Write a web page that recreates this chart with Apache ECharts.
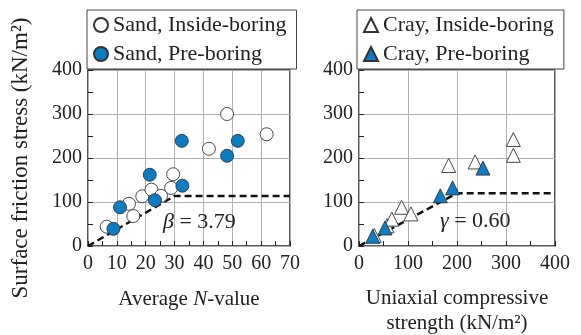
<!DOCTYPE html>
<html>
<head>
<meta charset="utf-8">
<script src="https://cdn.jsdelivr.net/npm/echarts@6/dist/echarts.min.js"></script>
<style>html,body{margin:0;padding:0;background:#fff}#chart{width:581px;height:335px}</style>
</head>
<body>
<div id="chart"></div>
<script>
// [x, y] pairs
var sandInside = [[6.5,44],[14.2,96],[15.7,68],[18.8,113],[22,128],[25.3,114],[28.8,132],[29.5,163],[41.9,221],[48.2,300],[61.9,254]];
var sandPre = [[8.8,39],[11.1,88],[21.4,162],[23.2,104],[32.5,239],[32.7,137],[48.2,205],[51.9,239]];
var crayInside = [[31,24],[57,46],[67,61],[87,88],[106,73],[183,183],[237,191],[315,242],[315,206]];
var crayPre = [[28,22],[53,41],[166,114],[191,132],[253,177]];
// fitted lines (beta = 3.79, gamma = 0.60)
var sandFit = [[0,0],[30,113.7],[70,113.7]];
var crayFit = [[0,0],[200,120],[400,120]];

var FONT = 'Liberation Serif';
var BLUE = '#0b7dc4';
var INK = '#222';

var chart = echarts.init(document.getElementById('chart'));

function xAxis(grid, max, interval, name, gap) {
  return {
    type: 'value', gridIndex: grid, min: 0, max: max, interval: interval,
    name: name, nameLocation: 'middle', nameGap: gap,
    nameTextStyle: { fontFamily: FONT, fontSize: 21, color: INK, lineHeight: 25,
      rich: { i: { fontFamily: FONT, fontSize: 21, fontStyle: 'italic', color: INK } } },
    axisLine: { show: false },
    axisTick: { show: true, inside: true, length: 5, lineStyle: { color: INK } },
    minorTick: { show: true, splitNumber: 2, length: 5, lineStyle: { color: INK } },
    axisLabel: { fontFamily: FONT, fontSize: 20, color: INK, margin: 8 },
    splitLine: { show: true, lineStyle: { color: '#b0b0b0', width: 1 } }
  };
}

function yAxis(grid, name) {
  return {
    type: 'value', gridIndex: grid, min: 0, max: 400, interval: 100,
    name: name, nameLocation: 'middle', nameGap: 56,
    nameTextStyle: { fontFamily: FONT, fontSize: 23, color: INK },
    axisLine: { show: false },
    axisTick: { show: true, inside: true, length: 5, lineStyle: { color: INK } },
    minorTick: { show: true, splitNumber: 2, length: 5, lineStyle: { color: INK } },
    axisLabel: { fontFamily: FONT, fontSize: 20, color: INK, margin: 6 },
    splitLine: { show: true, lineStyle: { color: '#b0b0b0', width: 1 } }
  };
}

function legend(left, names) {
  return {
    left: left, top: 10, orient: 'vertical', data: names,
    itemWidth: 14, itemHeight: 14, itemGap: 7,
    padding: [4, 10, 4, 6],
    borderColor: '#444', borderWidth: 1,
    textStyle: { fontFamily: FONT, fontSize: 22, color: INK }
  };
}

function pts(name, data, axis, symbol, size, fill) {
  return {
    name: name, type: 'scatter', xAxisIndex: axis, yAxisIndex: axis,
    data: data, symbol: symbol, symbolSize: size,
    itemStyle: { color: fill, opacity: 1, borderColor: '#333', borderWidth: 0.9 },
    z: fill === BLUE ? 4 : 3
  };
}

function fit(data, axis) {
  return {
    type: 'line', xAxisIndex: axis, yAxisIndex: axis, data: data,
    symbol: 'none', silent: true, z: 2,
    lineStyle: { color: '#111', width: 2.5, type: [7, 4] }
  };
}

chart.setOption({
  animation: false,
  grid: [
    { left: 88, top: 70, width: 202, height: 176, outerBoundsMode: 'none', show: true, borderColor: INK, borderWidth: 1.5, backgroundColor: 'transparent' },
    { left: 359, top: 70, width: 196, height: 176, outerBoundsMode: 'none', show: true, borderColor: INK, borderWidth: 1.5, backgroundColor: 'transparent' }
  ],
  legend: [
    legend(87, ['Sand, Inside-boring', 'Sand, Pre-boring']),
    legend(357, ['Cray, Inside-boring', 'Cray, Pre-boring'])
  ],
  xAxis: [
    xAxis(0, 70, 10, 'Average {i|N}-value', 41),
    xAxis(1, 400, 100, 'Uniaxial compressive\nstrength (kN/m²)', 40)
  ],
  yAxis: [
    yAxis(0, 'Surface friction stress (kN/m²)'),
    yAxis(1, '')
  ],
  series: [
    fit(sandFit, 0),
    fit(crayFit, 1),
    pts('Sand, Inside-boring', sandInside, 0, 'circle', 13, '#fff'),
    pts('Sand, Pre-boring', sandPre, 0, 'circle', 13, BLUE),
    pts('Cray, Inside-boring', crayInside, 1, 'triangle', 14, '#fff'),
    pts('Cray, Pre-boring', crayPre, 1, 'triangle', 14, BLUE)
  ],
  graphic: [
    { type: 'text', left: 163, top: 211, z: 10,
      style: { text: '{i|β} = 3.79', fontFamily: FONT, fontSize: 22, fill: INK,
        rich: { i: { fontFamily: FONT, fontSize: 22, fontStyle: 'italic', fill: INK } } } },
    { type: 'text', left: 440, top: 210, z: 10,
      style: { text: '{i|γ} = 0.60', fontFamily: FONT, fontSize: 22, fill: INK,
        rich: { i: { fontFamily: FONT, fontSize: 22, fontStyle: 'italic', fill: INK } } } }
  ]
});
</script>
</body>
</html>
